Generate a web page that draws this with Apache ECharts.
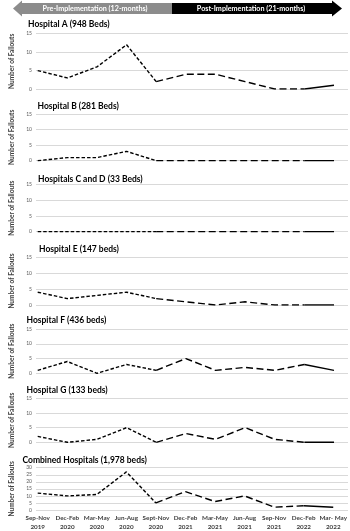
<!DOCTYPE html>
<html>
<head>
<meta charset="utf-8">
<script src="https://cdn.jsdelivr.net/npm/echarts@6/dist/echarts.min.js"></script>
<style>
  html, body { margin: 0; padding: 0; background: #fff; }
  #chart { width: 350px; height: 531px; }
</style>
</head>
<body>
<div id="chart"></div>
<script>
const periods = [
  "Sep-Nov\n2019", "Dec-Feb\n2020", "Mar-May\n2020", "Jun-Aug\n2020",
  "Sept-Nov\n2020", "Dec-Feb\n2021", "Mar-May\n2021", "Jun-Aug\n2021",
  "Sep-Nov\n2021", "Dec-Feb\n2022", "Mar- May\n2022",
];

const hospitalA = [5, 3, 6, 12, 2, 4, 4, 2, 0, 0, 1];
const hospitalB = [0, 1, 1, 3, 0, 0, 0, 0, 0, 0, 0];
const hospitalsCD = [0, 0, 0, 0, 0, 0, 0, 0, 0, 0, 0];
const hospitalE = [4, 2, 3, 4, 2, 1, 0, 1, 0, 0, 0];
const hospitalF = [1, 4, 0, 3, 1, 5, 1, 2, 1, 3, 1];
const hospitalG = [2, 0, 1, 5, 0, 3, 1, 5, 1, 0, 0];
const combined = [12, 10, 11, 27, 5, 13, 6, 10, 2, 3, 2];

const smallTicks = [0, 5, 10, 15];
const combinedTicks = [0, 5, 10, 15, 20, 25, 30];

// title, data, grid top/height, title position
const panels = [
  { title: "Hospital A (948 Beds)", data: hospitalA, top: 33.7, height: 55.3, tx: 28, ty: 24 },
  { title: "Hospital B (281 Beds)", data: hospitalB, top: 114, height: 46.7, tx: 37.5, ty: 106 },
  { title: "Hospitals C and D (33 Beds)", data: hospitalsCD, top: 184.7, height: 47, tx: 38, ty: 179.3 },
  { title: "Hospital E (147 beds)", data: hospitalE, top: 257, height: 48, tx: 39, ty: 249 },
  { title: "Hospital F (436 beds)", data: hospitalF, top: 329, height: 44.3, tx: 26.5, ty: 320 },
  { title: "Hospital G (133 beds)", data: hospitalG, top: 398.3, height: 44, tx: 26.5, ty: 390 },
  { title: "Combined Hospitals (1,978 beds)", data: combined, top: 467.7, height: 42.3, tx: 22.5, ty: 460 },
];

const font = "Lato";
const grids = [];
const xAxes = [];
const yAxes = [];
const series = [];
const titles = [];

// split a series into pre (0-4), post (4-9) and last (9-10) pieces
function piece(data, from, to) {
  return data.map((v, i) => (i >= from && i <= to ? v : "-"));
}

panels.forEach((p, k) => {
  const last = k === panels.length - 1;
  const ticks = last ? combinedTicks : smallTicks;
  // background grid with the gridlines and y labels
  grids.push({ left: 29, right: 2, top: p.top, height: p.height });
  xAxes.push({ type: "value", gridIndex: 2 * k, show: false, min: 0, max: 1 });
  yAxes.push({
    type: "value",
    gridIndex: 2 * k,
    min: 0,
    max: ticks[ticks.length - 1],
    interval: 5,
    name: "Number of Fallouts",
    nameLocation: "middle",
    nameRotate: 90,
    nameGap: 21,
    nameTextStyle: { fontFamily: font, fontWeight: "bold", fontSize: 6.5, color: "#404040" },
    axisLine: { show: false },
    axisTick: { show: false },
    axisLabel: { fontFamily: font, fontSize: 5, color: "#595959", margin: 4 },
    splitLine: { lineStyle: { color: "#d9d9d9", width: 1 } },
  });
  // data grid
  grids.push({ left: 37.7, right: 16, top: p.top, height: p.height });
  xAxes.push({
    type: "category",
    gridIndex: 2 * k + 1,
    data: periods,
    boundaryGap: false,
    axisLine: { show: false },
    axisTick: { show: false },
    splitLine: { show: false },
    axisLabel: {
      show: last,
      interval: 0,
      fontFamily: font,
      fontWeight: "bold",
      fontSize: 6.3,
      lineHeight: 8.5,
      color: "#404040",
      margin: 4,
    },
  });
  yAxes.push({
    type: "value",
    gridIndex: 2 * k + 1,
    min: 0,
    max: ticks[ticks.length - 1],
    show: false,
    splitLine: { show: false },
  });
  const styles = [
    { from: 0, to: 4, type: [3.5, 2] },
    { from: 4, to: 9, type: [7, 3.5] },
    { from: 9, to: 10, type: "solid" },
  ];
  styles.forEach((s) => {
    series.push({
      type: "line",
      xAxisIndex: 2 * k + 1,
      yAxisIndex: 2 * k + 1,
      data: piece(p.data, s.from, s.to),
      showSymbol: false,
      symbol: "none",
      connectNulls: false,
      lineStyle: { color: "#000", width: 1.4, type: s.type },
      z: 3,
    });
  });
  titles.push({
    type: "text",
    x: p.tx,
    y: p.ty,
    style: {
      text: p.title, fontFamily: font, fontWeight: "bold", fontSize: 8.5, fill: "#000",
      verticalAlign: "middle",
    },
  });
});

const chart = echarts.init(document.getElementById("chart"), null, { renderer: "canvas" });
chart.setOption({
  animation: false,
  backgroundColor: "#fff",
  grid: grids,
  xAxis: xAxes,
  yAxis: yAxes,
  series: series,
  graphic: [
    {
      type: "polygon",
      shape: { points: [[13, 8.5], [22, 0.5], [22, 3], [172, 3], [172, 14], [22, 14], [22, 16.5]] },
      style: { fill: "#8c8c8c" },
    },
    {
      type: "polygon",
      shape: { points: [[172, 3], [332, 3], [332, 0.5], [342, 8.5], [332, 16.5], [332, 14], [172, 14]] },
      style: { fill: "#000" },
    },
    {
      type: "text",
      x: 95,
      y: 8.5,
      style: {
        text: "Pre-Implementation (12-months)",
        fontFamily: font, fontWeight: "bold", fontSize: 7.2, fill: "#fff",
        align: "center", verticalAlign: "middle",
      },
    },
    {
      type: "text",
      x: 251,
      y: 8.5,
      style: {
        text: "Post-Implementation (21-months)",
        fontFamily: font, fontWeight: "bold", fontSize: 7.2, fill: "#fff",
        align: "center", verticalAlign: "middle",
      },
    },
  ].concat(titles),
});
</script>
</body>
</html>
